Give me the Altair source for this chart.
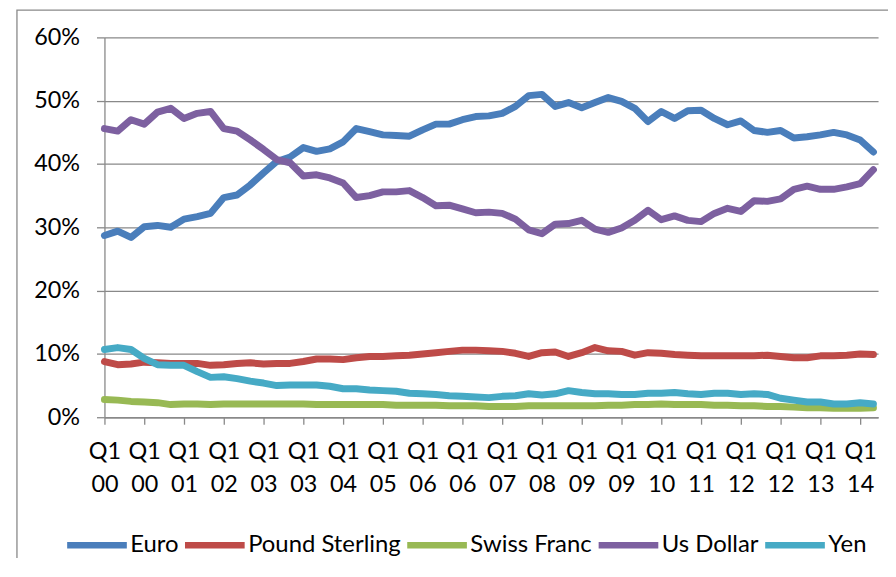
import json
import altair as alt
import pandas as pd

series_names = ["Euro", "Pound Sterling", "Swiss Franc", "Us Dollar", "Yen"]
series_colors = ["#4A7EBB", "#BE4B48", "#98B954", "#7D60A0", "#46AAC5"]

euro = [28.7, 29.4, 28.4, 30.1, 30.3, 30.0, 31.3, 31.7, 32.2, 34.7,
        35.1, 36.7, 38.6, 40.4, 41.1, 42.6, 42.0, 42.4, 43.5, 45.6,
        45.1, 44.6, 44.5, 44.4, 45.4, 46.3, 46.3, 47.0, 47.5, 47.6,
        48.0, 49.1, 50.8, 51.0, 49.1, 49.7, 48.9, 49.7, 50.5, 49.9,
        48.8, 46.7, 48.3, 47.2, 48.4, 48.5, 47.2, 46.2, 46.8, 45.3,
        45.0, 45.3, 44.1, 44.3, 44.6, 45.0, 44.6, 43.8, 41.9]
pound = [8.8, 8.3, 8.4, 8.7, 8.6, 8.5, 8.5, 8.5, 8.2, 8.3,
         8.5, 8.6, 8.4, 8.5, 8.5, 8.8, 9.2, 9.2, 9.1, 9.4,
         9.6, 9.6, 9.7, 9.8, 10.0, 10.2, 10.4, 10.6, 10.6, 10.5,
         10.4, 10.1, 9.6, 10.2, 10.3, 9.6, 10.2, 11.0, 10.5, 10.4,
         9.8, 10.2, 10.1, 9.9, 9.8, 9.7, 9.7, 9.7, 9.7, 9.7,
         9.8, 9.6, 9.4, 9.4, 9.7, 9.7, 9.8, 10.0, 9.9]
swiss = [2.8, 2.7, 2.5, 2.4, 2.3, 2.0, 2.1, 2.1, 2.0, 2.1,
         2.1, 2.1, 2.1, 2.1, 2.1, 2.1, 2.0, 2.0, 2.0, 2.0,
         2.0, 2.0, 1.9, 1.9, 1.9, 1.9, 1.8, 1.8, 1.8, 1.7,
         1.7, 1.7, 1.8, 1.8, 1.8, 1.8, 1.8, 1.8, 1.9, 1.9,
         2.0, 2.0, 2.1, 2.0, 2.0, 2.0, 1.9, 1.9, 1.8, 1.8,
         1.7, 1.7, 1.6, 1.5, 1.5, 1.4, 1.4, 1.4, 1.5]
usd = [45.6, 45.2, 47.0, 46.3, 48.2, 48.8, 47.2, 48.0, 48.3, 45.6,
       45.2, 43.8, 42.3, 40.7, 40.2, 38.1, 38.3, 37.8, 37.0, 34.7,
       35.0, 35.6, 35.6, 35.8, 34.7, 33.4, 33.5, 32.9, 32.3, 32.4,
       32.2, 31.3, 29.6, 29.0, 30.5, 30.6, 31.1, 29.7, 29.2, 29.9,
       31.1, 32.7, 31.2, 31.8, 31.1, 30.9, 32.2, 33.0, 32.5, 34.2,
       34.1, 34.5, 36.0, 36.5, 36.0, 36.0, 36.4, 36.9, 39.1]
yen = [10.7, 11.0, 10.7, 9.3, 8.3, 8.2, 8.2, 7.2, 6.3, 6.4,
       6.1, 5.7, 5.4, 5.0, 5.1, 5.1, 5.1, 4.9, 4.5, 4.5,
       4.3, 4.2, 4.1, 3.8, 3.7, 3.6, 3.4, 3.3, 3.2, 3.1,
       3.3, 3.4, 3.7, 3.5, 3.7, 4.2, 3.9, 3.7, 3.7, 3.6,
       3.6, 3.8, 3.8, 3.9, 3.7, 3.6, 3.8, 3.8, 3.6, 3.7,
       3.6, 3.0, 2.7, 2.4, 2.4, 2.1, 2.1, 2.3, 2.1]

tick_quarter = "Q1"
tick_years = ["00", "00", "01", "02", "03", "03", "04", "05", "06", "06",
              "07", "08", "09", "09", "10", "11", "12", "12", "13", "14"]
y_ticks = [0, 10, 20, 30, 40, 50, 60]

rows = []
for name, vals in zip(series_names, [euro, pound, swiss, usd, yen]):
    for i, v in enumerate(vals):
        rows.append({"q": i, "share": v, "currency": name})
df = pd.DataFrame(rows)

tick_positions = [3 * k for k in range(len(tick_years))]
label_expr = "['" + tick_quarter + "', " + json.dumps(tick_years) + "[round(datum.value / 3)]]"

FONT = "Lato"
GRID = "#898989"

lines = alt.Chart(df).mark_line(strokeWidth=7, strokeCap="round", strokeJoin="round").encode(
    x=alt.X("q:Q",
            scale=alt.Scale(domain=[0, 58.35], nice=False, zero=False),
            axis=alt.Axis(values=tick_positions, labelExpr=label_expr, title=None, grid=False,
                          domainColor=GRID, domainWidth=1.3, tickColor=GRID, tickWidth=1.3, tickSize=7,
                          labelFont=FONT, labelFontSize=23.5, labelLineHeight=34, labelPadding=15,
                          labelColor="black", labelAngle=0, labelBaseline="top", labelAlign="center",
                          labelFlush=False, labelOverlap=False)),
    y=alt.Y("share:Q",
            scale=alt.Scale(domain=[0, 60], nice=False),
            axis=alt.Axis(values=y_ticks, labelExpr="datum.value + '%'", title=None,
                          grid=True, gridColor=GRID, gridWidth=1.3,
                          domainColor=GRID, domainWidth=1.3, tickColor=GRID, tickWidth=1.3, tickSize=8,
                          labelFont=FONT, labelFontSize=23.5, labelPadding=17, labelColor="black")),
    color=alt.Color("currency:N",
                    scale=alt.Scale(domain=series_names, range=series_colors),
                    legend=alt.Legend(orient="none", legendX=-41, legendY=477, direction="horizontal",
                                      title=None, symbolType="stroke", symbolSize=3600,
                                      symbolStrokeWidth=6.5, labelFont=FONT, labelFontSize=24,
                                      labelColor="black", labelOffset=0, columnPadding=-7.5)),
)

border = alt.Chart(pd.DataFrame({"a": [0]})).mark_rect(
    fill="transparent", stroke=GRID, strokeWidth=1.3
).encode(x=alt.value(-88), x2=alt.value(900), y=alt.value(-27.5), y2=alt.value(600))

chart = alt.layer(border, lines).properties(
    width=778, height=382,
    autosize=alt.AutoSizeParams(type="none"),
    padding={"left": 97, "top": 28, "right": 10, "bottom": 140},
).configure_view(stroke=None)

chart.save("out.html", embed_options={"renderer": "svg", "actions": False})
